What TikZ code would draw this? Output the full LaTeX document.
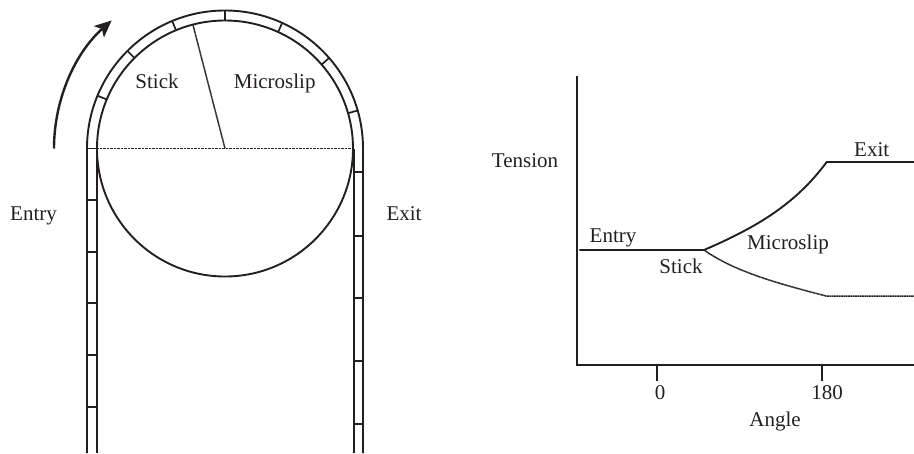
\documentclass[tikz,border=0pt]{standalone}
\usepackage{fontspec}
\setmainfont{Liberation Serif}
\usepackage{xcolor}
\usetikzlibrary{arrows.meta,calc}
\definecolor{inkblack}{RGB}{35,31,32}
\tikzset{
  beltline/.style={draw=inkblack, line width=1.9pt},
  tickline/.style={draw=inkblack, line width=1.7pt},
  dotline/.style={draw=inkblack, line width=1.5pt, dash pattern=on 1pt off 0.4pt},
  lbl/.style={font=\fontsize{21pt}{23pt}\selectfont, text=inkblack, anchor=base, inner sep=0pt}
}
\begin{document}
\begin{tikzpicture}[x=1pt, y=-1pt]
        \useasboundingbox (0,0) rectangle (914,453);

        \coordinate (hub) at (225,148.5);
        \def\rinner{128}
        \def\router{138}

        % Pulley and belt
        \draw[beltline] (hub) circle[radius=\rinner];
        \draw[beltline] (87,453) -- (87,148.5) arc[start angle=180, end angle=360, radius=\router] -- (363,453);
        \draw[beltline] (97,453) -- (97,148.5);
        \draw[beltline] (354,453) -- (354,148.5);

        % Belt segments on the arc
        \foreach \ang in {90,112.5,135,157.5,65.5,41,16}
          \draw[tickline] ($(hub)+(-\ang:\rinner)$) -- ($(hub)+(-\ang:\router)$);

        % Belt segments on the straight runs
        \foreach \ypos in {148.5,200,252,303,355,407}
          \draw[tickline] (87,\ypos) -- (97,\ypos);
        \foreach \ypos in {172,235.7,298.3,361,424.3}
          \draw[tickline] (354,\ypos) -- (363,\ypos);

        % Stick and microslip zones
        \coordinate (zoneleft) at (97,148.5);
        \coordinate (zoneright) at (354,148.5);
        \coordinate (zonetop) at (193,25);
        \draw[dotline] (zoneleft) -- (zoneright);
        \draw[dotline] (hub) -- (zonetop);

        % Direction of travel
        \draw[draw=inkblack, line width=2.4pt, -{Stealth[length=17pt, width=15pt, inset=4pt]}] (54,148.5) arc[start angle=180, end angle=228.5, radius=171];

        \node[lbl] (stick) at (157,88) {Stick};
        \node[lbl] (microslip) at (274.7,88) {Microslip};
        \node[lbl] (entry) at (33.5,220) {Entry};
        \node[lbl] (exit) at (404,220) {Exit};

        % Axes
        \coordinate (ytop) at (576.7,76.7);
        \coordinate (origin) at (576.7,365);
        \coordinate (xend) at (914,365);
        \draw[beltline, line cap=rect] (ytop) -- (origin) -- (xend);
        \draw[tickline] (657.3,365) -- (657.3,380.7);
        \draw[tickline] (822,365) -- (822,380.7);

        % Tension curves
        \coordinate (entrystart) at (579.3,250);
        \coordinate (split) at (704,250);
        \coordinate (tightend) at (826.7,162);
        \coordinate (slackend) at (826,296);
        \draw[beltline] (entrystart) -- (split) .. controls (755,228) and (795,205) .. (tightend) -- (914,162);
        \draw[dotline] (split) .. controls (735,272) and (780,284) .. (slackend) -- (914,296);

        \node[lbl] (tension) at (525,167) {Tension};
        \node[lbl] (entryplot) at (613,242.7) {Entry};
        \node[lbl] (stickplot) at (681,273) {Stick};
        \node[lbl] (microslipplot) at (788,249) {Microslip};
        \node[lbl] (exitplot) at (871.7,156.7) {Exit};
        \node[lbl] (zero) at (660,399) {0};
        \node[lbl] (oneeighty) at (827,399) {180};
        \node[lbl] (angle) at (775,426) {Angle};
\end{tikzpicture}
\end{document}
